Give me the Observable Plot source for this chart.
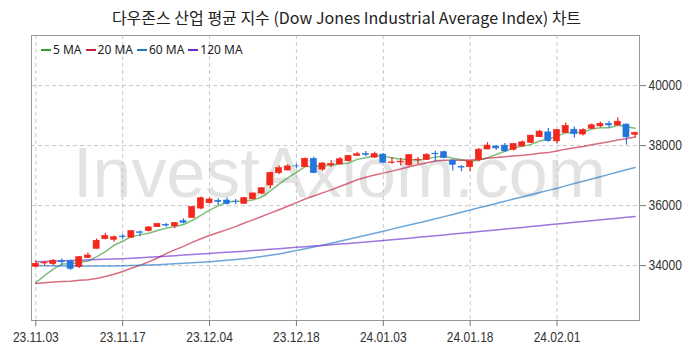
<!DOCTYPE html>
<html>
<head>
<meta charset="utf-8">
<script src="https://cdn.jsdelivr.net/npm/d3@7"></script>
<script src="https://cdn.jsdelivr.net/npm/@observablehq/plot@0.6"></script>
<style>
  html, body { margin: 0; padding: 0; background: #fff; }
  body { width: 693px; height: 353px; overflow: hidden; position: relative; }
  #title { height: 30px; line-height: 35px; text-align: center; font-size: 16px; color: #222;
           font-family: "Noto Sans CJK KR", "Noto Sans", sans-serif; white-space: nowrap; }
  #legend { position: absolute; left: 41px; top: 41px; display: flex; align-items: center;
            font-family: "Noto Sans", "DejaVu Sans", sans-serif; font-size: 12px; color: #222; }
  #legend .item { display: flex; align-items: center; margin-right: 4px; }
  #legend .sw { display: inline-block; width: 10px; height: 2px; margin-right: 2px; }
</style>
</head>
<body>
<div id="title">다우존스 산업 평균 지수 (Dow Jones Industrial Average Index) 차트</div>
<div id="chart"></div>
<div id="legend"></div>
<script>
const dates = [
  "23.11.03","23.11.06","23.11.07","23.11.08","23.11.09","23.11.10","23.11.13","23.11.14","23.11.15","23.11.16",
  "23.11.17","23.11.20","23.11.21","23.11.22","23.11.24","23.11.27","23.11.28","23.11.29","23.11.30","23.12.01",
  "23.12.04","23.12.05","23.12.06","23.12.07","23.12.08","23.12.11","23.12.12","23.12.13","23.12.14","23.12.15",
  "23.12.18","23.12.19","23.12.20","23.12.21","23.12.22","23.12.26","23.12.27","23.12.28","23.12.29","24.01.02",
  "24.01.03","24.01.04","24.01.05","24.01.08","24.01.09","24.01.10","24.01.11","24.01.12","24.01.16","24.01.17",
  "24.01.18","24.01.19","24.01.22","24.01.23","24.01.24","24.01.25","24.01.26","24.01.29","24.01.30","24.01.31",
  "24.02.01","24.02.02","24.02.05","24.02.06","24.02.07","24.02.08","24.02.09","24.02.12","24.02.13","24.02.14"
];
const open = [
  33960,34070,34050,34150,34140,33950,34250,34560,34880,34860,
  34970,34930,35110,35150,35280,35360,35310,35480,35590,35900,
  36080,36160,36170,36130,36060,36210,36400,36670,37080,37170,
  37310,37280,37560,37200,37340,37370,37480,37660,37720,37600,
  37700,37420,37440,37340,37510,37520,37730,37780,37500,37290,
  37280,37520,37870,37970,38000,37860,37970,38090,38280,38440,
  38140,38420,38530,38370,38560,38640,38720,38670,38700,38360
];
const high = [
  34150,34140,34200,34220,34180,34300,34420,34890,35080,34990,
  35030,35160,35150,35300,35410,35400,35440,35560,35960,36290,
  36260,36230,36250,36200,36270,36410,36590,37110,37330,37360,
  37380,37590,37620,37430,37500,37600,37680,37780,37800,37780,
  37740,37600,37580,37700,37600,37730,37810,37820,37530,37330,
  37500,37900,38100,38000,38070,38060,38150,38340,38510,38570,
  38540,38750,38620,38560,38720,38780,38800,38930,38720,38450
];
const low = [
  33930,33990,34000,34000,33840,33900,34230,34550,34860,34780,
  34880,34900,34960,35120,35270,35280,35230,35390,35570,35860,
  36050,36000,36020,36040,36040,36190,36360,36560,37030,37150,
  37240,37270,37060,37140,37270,37350,37450,37640,37630,37570,
  37400,37380,37320,37320,37380,37500,37450,37560,37150,37130,
  37140,37460,37860,37840,37780,37820,37950,38070,38260,38110,
  38060,38400,38250,38320,38540,38600,38590,38660,38020,38250
];
const close = [
  34061,34095,34152,34112,33891,34283,34337,34828,34991,34945,
  34947,35151,35088,35273,35390,35333,35416,35430,35951,36245,
  36204,36125,36054,36118,36248,36405,36578,37090,37248,37306,
  37307,37558,37083,37405,37386,37545,37657,37710,37690,37715,
  37431,37440,37466,37683,37525,37696,37711,37593,37361,37267,
  37469,37864,38001,37906,37806,38050,38109,38333,38467,38150,
  38520,38654,38380,38521,38677,38726,38672,38797,38273,38424
];
const ma5 = [
  33431,33664,33884,34052,34062,34107,34155,34290,34466,34677,
  34810,34972,35024,35081,35170,35247,35300,35368,35504,35675,
  35849,35991,36116,36149,36150,36190,36281,36488,36714,36925,
  37106,37302,37300,37332,37348,37395,37415,37541,37598,37663,
  37641,37597,37548,37547,37509,37562,37616,37642,37577,37526,
  37480,37511,37592,37701,37809,37925,37974,38041,38153,38222,
  38316,38425,38434,38445,38550,38592,38595,38679,38629,38578
];
const ma20 = [
  33406,33430,33451,33466,33479,33510,33527,33569,33635,33712,
  33803,33913,34011,34123,34253,34399,34523,34642,34776,34896,
  35003,35105,35200,35300,35418,35524,35636,35749,35862,35980,
  36098,36218,36318,36425,36525,36635,36747,36861,36948,37022,
  37083,37149,37219,37298,37361,37426,37483,37508,37513,37511,
  37520,37535,37581,37606,37627,37652,37675,37706,37745,37766,
  37821,37882,37927,37969,38027,38078,38126,38187,38232,38290
];
const ma60 = [
  34000,33997,33993,33990,33987,33985,33984,33985,33987,33990,
  33995,34002,34010,34020,34032,34045,34060,34076,34093,34111,
  34130,34152,34176,34202,34230,34262,34300,34342,34390,34443,
  34500,34560,34621,34683,34746,34810,34877,34944,35012,35080,
  35148,35216,35284,35352,35421,35490,35560,35633,35706,35779,
  35852,35925,35998,36071,36144,36217,36290,36363,36436,36508,
  36580,36657,36734,36810,36886,36962,37040,37117,37194,37270
];
const ma120 = [
  34130,34140,34150,34160,34170,34180,34190,34200,34210,34221,
  34232,34243,34260,34278,34296,34314,34332,34350,34368,34387,
  34406,34425,34444,34463,34482,34502,34523,34544,34565,34586,
  34608,34630,34652,34674,34696,34718,34740,34763,34786,34809,
  34833,34860,34887,34914,34941,34968,34995,35022,35050,35078,
  35106,35134,35162,35190,35218,35246,35274,35302,35330,35358,
  35386,35414,35442,35470,35498,35526,35554,35582,35610,35638
];
const xTickLabels = ["23.11.03","23.11.17","23.12.04","23.12.18","24.01.03","24.01.18","24.02.01"];
const yTicks = [34000, 36000, 38000, 40000];
const maNames = ["5 MA", "20 MA", "60 MA", "120 MA"];
const maColors = ["#3c9a32", "#c21f3a", "#1f77c4", "#6a2ccb"];
const upColor = "#f3271c", downColor = "#2575de";

const rows = dates.map((d, i) => ({date: d, open: open[i], high: high[i], low: low[i], close: close[i],
  color: close[i] >= open[i] ? upColor : downColor}));
const maSeries = [ma5, ma20, ma60, ma120];

const lineMarks = maSeries.map((arr, k) =>
  Plot.line(dates.map((d, i) => ({date: d, v: arr[i]})),
    {x: "date", y: "v", stroke: maColors[k], strokeWidth: 1.5, strokeOpacity: 0.65}));

const chart = Plot.plot({
  width: 693, height: 323,
  marginTop: 5, marginBottom: 33, marginLeft: 31, marginRight: 54,
  style: {fontFamily: "'Liberation Sans', Arial, sans-serif", fontSize: "15px", color: "#333", background: "transparent"},
  x: {type: "band", domain: dates, paddingInner: 0.3, paddingOuter: 0.15, label: null},
  y: {domain: [32170, 41670], label: null},
  color: {type: "identity"},
  marks: [
    Plot.text(["InvestAxiom.com"], {frameAnchor: "middle", dx: 4, dy: -3, fontSize: 70, fill: "#e3e3e3",
      fontFamily: "'Liberation Sans', Arial, sans-serif"}),
    Plot.gridY(yTicks, {stroke: "#c8c8c8", strokeOpacity: 1, strokeDasharray: "4,3"}),
    Plot.gridX(xTickLabels, {stroke: "#c8c8c8", strokeOpacity: 1, strokeDasharray: "4,3"}),
    Plot.frame({stroke: "#999"}),
    Plot.axisY(yTicks, {anchor: "right", tickFormat: d => String(d), tickSize: 6, tickPadding: 3, stroke: "#777", fill: "#333"}),
    Plot.axisX(xTickLabels, {anchor: "bottom", tickSize: 6, tickPadding: 5, stroke: "#777", fill: "#333"}),
    ...lineMarks,
    Plot.ruleX(rows, {x: "date", y1: "low", y2: "high", stroke: "color", strokeWidth: 1.2}),
    Plot.barY(rows, {x: "date", y1: "open", y2: "close", fill: "color", stroke: "color", strokeWidth: 0.6})
  ]
});
// condense the tick labels horizontally (narrow font look)
d3.select(chart).selectAll('g[aria-label$="tick label"] text').each(function() {
  const t = this.getAttribute("transform") || "";
  this.setAttribute("transform", t + " scale(0.8,1)");
});
document.getElementById("chart").appendChild(chart);

const legend = document.getElementById("legend");
maNames.forEach((name, k) => {
  const item = document.createElement("span");
  item.className = "item";
  const sw = document.createElement("span");
  sw.className = "sw";
  sw.style.background = maColors[k];
  item.appendChild(sw);
  item.appendChild(document.createTextNode(name));
  legend.appendChild(item);
});
</script>
</body>
</html>
